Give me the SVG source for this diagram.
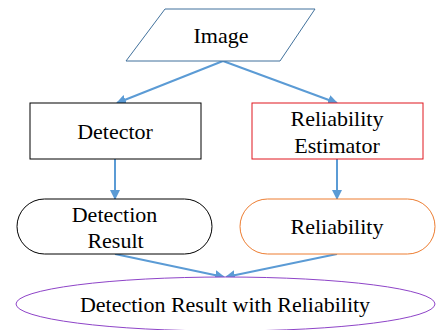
<svg xmlns="http://www.w3.org/2000/svg" width="438" height="330" viewBox="0 0 438 330">
  <style>
    .lbl { font-family: "Liberation Serif", "Times New Roman", serif; font-size: 22px; fill: #000; text-anchor: middle; }
    .edge { stroke: #5B9BD5; stroke-width: 2; fill: none; marker-end: url(#arrow); }
  </style>
  <defs>
    <marker id="arrow" viewBox="0 0 10 10" refX="9" refY="5" markerWidth="5" markerHeight="5" orient="auto" markerUnits="strokeWidth">
      <path d="M0,0 L10,5 L0,10 z" fill="#5B9BD5"/>
    </marker>
  </defs>
  <rect width="438" height="330" fill="#fff"/>

  <g id="connectors">
    <line class="edge" x1="223" y1="61" x2="117" y2="103"/>
    <line class="edge" x1="223" y1="61" x2="337" y2="103"/>
    <line class="edge" x1="115" y1="159" x2="115" y2="199"/>
    <line class="edge" x1="337" y1="159" x2="337" y2="199"/>
    <line class="edge" x1="115" y1="254" x2="224" y2="277"/>
    <line class="edge" x1="337" y1="254" x2="226" y2="277"/>
  </g>

  <g id="image">
    <polygon points="165,9 315,9 280,61 126,61" fill="#fff" stroke="#41719C" stroke-width="1"/>
    <text class="lbl" x="221" y="43">Image</text>
  </g>

  <g id="detector">
    <rect x="30" y="103" width="171" height="56" fill="#fff" stroke="#000" stroke-width="1"/>
    <text class="lbl" x="115" y="139">Detector</text>
  </g>

  <g id="estimator">
    <rect x="252" y="103" width="171" height="56" fill="#fff" stroke="#E0161E" stroke-width="1"/>
    <text class="lbl" x="337" y="126">Reliability</text>
    <text class="lbl" x="337" y="153">Estimator</text>
  </g>

  <g id="detection-result">
    <rect x="17" y="199" width="195" height="55" rx="27.5" ry="27.5" fill="#fff" stroke="#000" stroke-width="1"/>
    <text class="lbl" x="114.5" y="222">Detection</text>
    <text class="lbl" x="115.5" y="248">Result</text>
  </g>

  <g id="reliability">
    <rect x="240" y="199" width="195" height="55" rx="27.5" ry="27.5" fill="#fff" stroke="#ED7D31" stroke-width="1"/>
    <text class="lbl" x="337" y="234">Reliability</text>
  </g>

  <g id="combined">
    <ellipse cx="225.5" cy="304" rx="209.5" ry="27" fill="#fff" stroke="#8E44C8" stroke-width="1"/>
    <text class="lbl" x="225" y="312">Detection Result with Reliability</text>
  </g>
</svg>
